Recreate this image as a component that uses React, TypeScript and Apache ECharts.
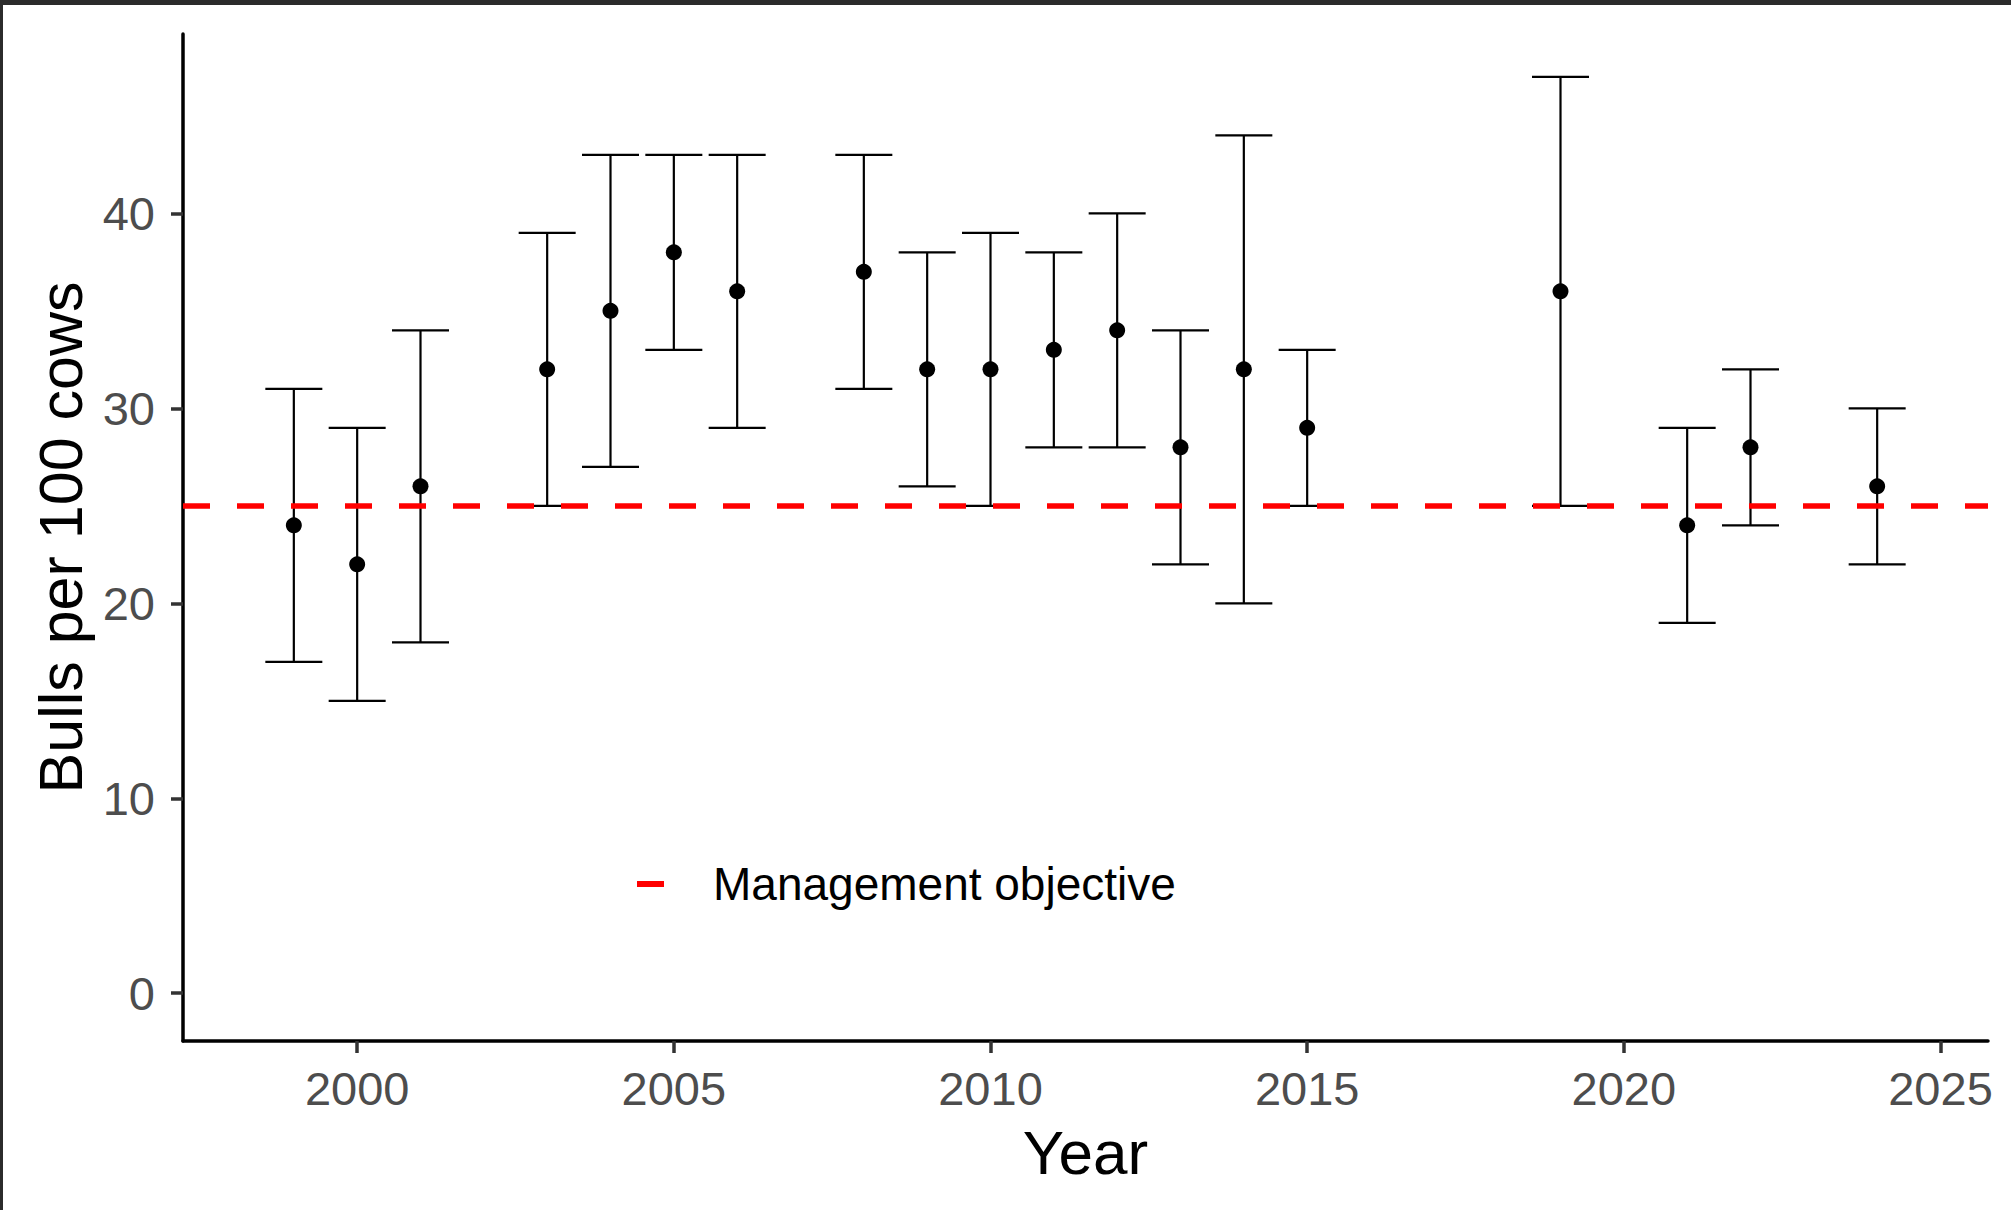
import React, { useEffect, useRef } from "react";
import * as echarts from "echarts";

const YEARS = [1999, 2000, 2001, 2003, 2004, 2005, 2006, 2008, 2009, 2010, 2011, 2012, 2013, 2014, 2015, 2019, 2021, 2022, 2024];
const ESTIMATE = [24, 22, 26, 32, 35, 38, 36, 37, 32, 32, 33, 34, 28, 32, 29, 36, 24, 28, 26];
const LOWER = [17, 15, 18, 25, 27, 33, 29, 31, 26, 25, 28, 28, 22, 20, 25, 25, 19, 24, 22];
const UPPER = [31, 29, 34, 39, 43, 43, 43, 43, 38, 39, 38, 40, 34, 44, 33, 47, 29, 32, 30];
const X_TICKS = [2000, 2005, 2010, 2015, 2020, 2025];
const Y_TICKS = [0, 10, 20, 30, 40];
const OBJECTIVE = 25;
const OBJECTIVE_NAME = "Management objective";
const CAP_HALF_WIDTH = 0.45;

const FONT = "'Liberation Sans', Arial, Helvetica, sans-serif";

export default function App() {
  const ref = useRef<HTMLDivElement>(null);

  useEffect(() => {
    if (!ref.current) return;
    const chart = echarts.init(ref.current, null, { renderer: "svg" });

    const barData = YEARS.map((y, i) => [y, LOWER[i], UPPER[i]]);
    const pointData = YEARS.map((y, i) => [y, ESTIMATE[i]]);

    const option: any = {
      animation: false,
      backgroundColor: "#ffffff",
      textStyle: { fontFamily: FONT },
      grid: { left: 183, right: 23, top: 34, bottom: 169, containLabel: false },
      legend: {
        left: 632,
        top: 856,
        icon: "rect",
        itemWidth: 27,
        itemHeight: 6,
        data: [OBJECTIVE_NAME],
        selectedMode: false,
        textStyle: { fontSize: 46, color: "#000000", fontFamily: FONT, padding: [0, 0, 0, 44] },
      },
      xAxis: {
        type: "value",
        min: 1997.25,
        max: 2025.75,
        name: "Year",
        nameLocation: "middle",
        nameGap: 80,
        nameTextStyle: { fontSize: 62, color: "#000000", fontFamily: FONT },
        axisLine: { onZero: false, lineStyle: { color: "#000000", width: 3.5 } },
        axisTick: { show: true, length: 12, customValues: X_TICKS, lineStyle: { color: "#333333", width: 3.5 } },
        axisLabel: {
          customValues: X_TICKS,
          fontSize: 47,
          color: "#4d4d4d",
          margin: 24,
          fontFamily: FONT,
          formatter: (v: number) => String(v),
        },
        splitLine: { show: false },
      },
      yAxis: {
        type: "value",
        min: -2.45,
        max: 49.2,
        name: "Bulls per 100 cows",
        nameLocation: "middle",
        nameGap: 92,
        nameTextStyle: { fontSize: 61, color: "#000000", fontFamily: FONT },
        axisLine: { show: true, onZero: false, lineStyle: { color: "#000000", width: 3.5 } },
        axisTick: { show: true, length: 12, customValues: Y_TICKS, lineStyle: { color: "#333333", width: 3.5 } },
        axisLabel: {
          customValues: Y_TICKS,
          fontSize: 47,
          color: "#4d4d4d",
          margin: 28,
          fontFamily: FONT,
          formatter: (v: number) => String(v),
        },
        splitLine: { show: false },
      },
      graphic: [
        { type: "rect", left: 0, top: 0, z: 100, shape: { width: 2011, height: 5 }, style: { fill: "#2b2b2b" } },
        { type: "rect", left: 0, top: 0, z: 100, shape: { width: 3, height: 1210 }, style: { fill: "#2b2b2b" } },
      ],
      series: [
        {
          name: OBJECTIVE_NAME,
          type: "line",
          data: [],
          z: 1,
          itemStyle: { color: "#ff0000" },
          lineStyle: { color: "#ff0000" },
          markLine: {
            silent: true,
            symbol: ["none", "none"],
            label: { show: false },
            lineStyle: { color: "#ff0000", width: 5.5, type: [27, 27], opacity: 1 },
            emphasis: { disabled: true },
            data: [{ yAxis: OBJECTIVE }],
          },
        },
        {
          name: "interval",
          type: "custom",
          z: 2,
          silent: true,
          data: barData,
          encode: { x: 0, y: [1, 2] },
          renderItem: (params: any, api: any) => {
            const x = api.value(0);
            const lo = api.value(1);
            const hi = api.value(2);
            const top = api.coord([x, hi]);
            const bot = api.coord([x, lo]);
            const tl = api.coord([x - CAP_HALF_WIDTH, hi]);
            const tr = api.coord([x + CAP_HALF_WIDTH, hi]);
            const bl = api.coord([x - CAP_HALF_WIDTH, lo]);
            const br = api.coord([x + CAP_HALF_WIDTH, lo]);
            const style = { stroke: "#000000", lineWidth: 2.2 };
            return {
              type: "group",
              children: [
                { type: "line", shape: { x1: top[0], y1: top[1], x2: bot[0], y2: bot[1] }, style },
                { type: "line", shape: { x1: tl[0], y1: tl[1], x2: tr[0], y2: tr[1] }, style },
                { type: "line", shape: { x1: bl[0], y1: bl[1], x2: br[0], y2: br[1] }, style },
              ],
            };
          },
        },
        {
          name: "estimate",
          type: "scatter",
          z: 3,
          silent: true,
          symbol: "circle",
          symbolSize: 16,
          itemStyle: { color: "#000000", opacity: 1 },
          data: pointData,
        },
      ],
    };

    chart.setOption(option);
    return () => chart.dispose();
  }, []);

  return (
    <div
      ref={ref}
      style={{ position: "fixed", left: 0, top: 0, width: 2011, height: 1210, background: "#ffffff" }}
    />
  );
}
